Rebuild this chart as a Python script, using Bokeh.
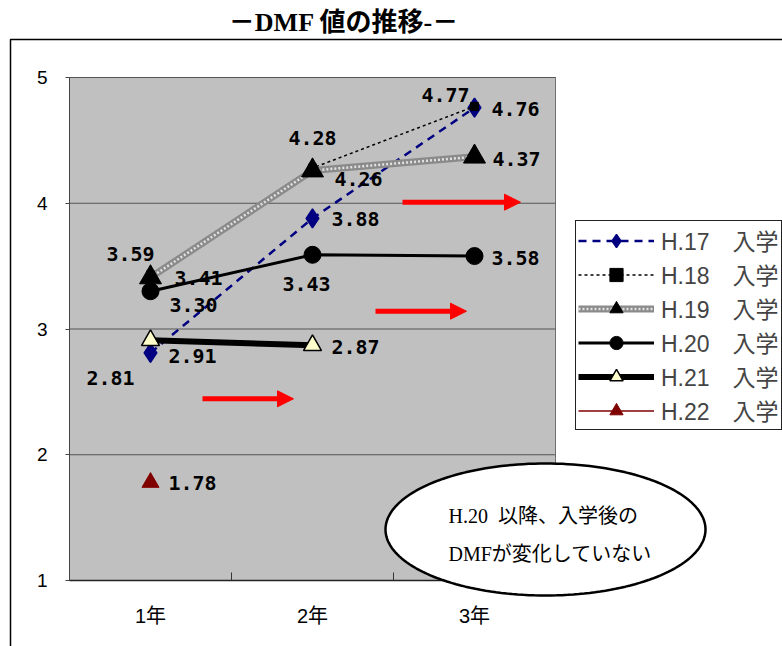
import numpy as np
from bokeh.plotting import figure
from bokeh.models import (FixedTicker, Legend, LegendItem, Label, Arrow, NormalHead,
                          BoxAnnotation, PolyAnnotation, ColumnDataSource)
from bokeh.core.properties import value
from bokeh.embed import file_html
from bokeh.resources import INLINE

# ---------------- data ----------------
years = ["1年", "2年", "3年"]
series_labels = ["H.17\u3000入学", "H.18\u3000入学", "H.19\u3000入学",
                 "H.20\u3000入学", "H.21\u3000入学", "H.22\u3000入学"]
h17 = [2.81, 3.88, 4.76]
h18 = [3.43, 4.28, 4.77]
h19 = [3.41, 4.26, 4.37]
h20 = [3.30, 3.59, 3.58]
h21 = [2.91, 2.87]
h22 = [1.78]
y_ticks = [1, 2, 3, 4, 5]
title_text = "－DMF 値の推移-－"
note_lines = ["H.20\u2002以降、入学後の", "DMFが変化していない"]

# ---------------- geometry helpers (picture pixels -> data) ----------------
FL, FR, FT, FB = 69, 555, 77, 580   # plot-area edges in picture pixels
def px2x(px):
    return (px - FL) / (FR - FL) * len(years)
def px2y(py):
    return y_ticks[0] + (FB - py) / (FB - FT) * (y_ticks[-1] - y_ticks[0])

W, H = 782, 646
p = figure(width=W, height=H, output_backend="svg", toolbar_location=None,
           x_range=(px2x(0), px2x(W)), y_range=(px2y(H), px2y(0)),
           min_border=0, background_fill_color="white", border_fill_color="white")
p.outline_line_color = None
p.xgrid.visible = False
p.ygrid.visible = False

SANS = "Liberation Sans, Noto Sans CJK JP"
SERIF = "Liberation Serif, Noto Sans CJK JP"
x0, x1 = 0, len(years)
y0, y1 = y_ticks[0], y_ticks[-1]

# outer frame of the chart object
p.add_layout(BoxAnnotation(left=px2x(10), top=px2y(39), right=px2x(2000), bottom=px2y(2000),
                           fill_alpha=0, line_color="black", line_alpha=1, line_width=1.5,
                           level="underlay"))
# plot area
p.add_layout(BoxAnnotation(left=x0, right=x1, bottom=y0, top=y1, fill_color="#C0C0C0",
                           fill_alpha=1, line_color="#707070", line_alpha=1, line_width=1,
                           level="underlay"))
# horizontal gridlines
p.segment(x0=[x0] * len(y_ticks), x1=[x1] * len(y_ticks), y0=y_ticks, y1=y_ticks,
          line_color="#555555", line_width=1)

# y axis
p.yaxis.fixed_location = x0
p.yaxis.bounds = (y0, y1)
p.yaxis.ticker = FixedTicker(ticks=y_ticks, minor_ticks=[])
p.yaxis.major_label_text_font = SANS
p.yaxis.major_label_text_font_size = "19px"
p.yaxis.major_label_text_color = "black"
p.yaxis.major_tick_out = 4
p.yaxis.major_tick_in = 0
p.yaxis.major_label_standoff = 18
p.yaxis.axis_line_color = "#444444"
p.yaxis.major_tick_line_color = "#444444"

# x axis: labels at category centres, tick marks between categories
centers = [i + 0.5 for i in range(len(years))]
p.xaxis.fixed_location = y0
p.xaxis.bounds = (x0, x1)
p.xaxis.ticker = FixedTicker(ticks=centers, minor_ticks=list(range(1, len(years))))
p.xaxis.major_label_overrides = {c: y for c, y in zip(centers, years)}
p.xaxis.major_label_text_font = SANS
p.xaxis.major_label_text_font_size = "20px"
p.xaxis.major_label_text_color = "black"
p.xaxis.major_tick_in = 0
p.xaxis.major_tick_out = 0
p.xaxis.minor_tick_in = 8
p.xaxis.minor_tick_out = 0
p.xaxis.minor_tick_line_color = "#333333"
p.xaxis.major_label_standoff = 24
p.xaxis.axis_line_color = "#222222"
p.xaxis.axis_line_width = 1.5

def xs_for(vals):
    return [centers[i] for i in range(len(vals))]

items = []
# H.17
r1 = p.line(xs_for(h17), h17, line_color="#000080", line_width=2.5, line_dash="8 6")
r2 = p.scatter(xs_for(h17), h17, marker="diamond", size=19,
               fill_color="#000080", line_color="#000080", line_width=1.5)
items.append(LegendItem(label=series_labels[0], renderers=[r1, r2]))
# H.18
r1 = p.line(xs_for(h18), h18, line_color="black", line_width=1.5, line_dash="3 3")
r2 = p.scatter(xs_for(h18), h18, marker="square", size=8, fill_color="black", line_color="black")
items.append(LegendItem(label=series_labels[1], renderers=[r1, r2]))
# H.19
r1 = p.line(xs_for(h19), h19, line_color="#8a8a8a", line_width=7)
r1b = p.line(xs_for(h19), h19, line_color="#e2e2e2", line_width=2.5, line_dash="2 2")
r2 = p.scatter(xs_for(h19), h19, marker="triangle", size=22, fill_color="black", line_color="black")
items.append(LegendItem(label=series_labels[2], renderers=[r1, r1b, r2]))
# H.20
r1 = p.line(xs_for(h20), h20, line_color="black", line_width=3)
r2 = p.scatter(xs_for(h20), h20, marker="circle", size=17, fill_color="black", line_color="black")
items.append(LegendItem(label=series_labels[3], renderers=[r1, r2]))
# H.21
r1 = p.line(xs_for(h21), h21, line_color="black", line_width=6)
r2 = p.scatter(xs_for(h21), h21, marker="triangle", size=18, fill_color="#FFFFCC",
               line_color="black", line_width=1.5)
items.append(LegendItem(label=series_labels[4], renderers=[r1, r2]))
# H.22
r1 = p.line(xs_for(h22), h22, line_color="#800000", line_width=1.5)
r2 = p.scatter(xs_for(h22), h22, marker="triangle", size=17, fill_color="#800000", line_color="#800000")
items.append(LegendItem(label=series_labels[5], renderers=[r1, r2]))

# data labels (offsets in screen pixels, as placed in the original)
label_offsets = [
    [(-40, 25), (43, 1), (41, 1)],      # H.17
    [(156, 9), (0, -30), (-29, -11)],   # H.18
    [(48, 1), (46, 8), (42, 2)],        # H.19
    [(43, 14), (-182, -1), (41, 2)],    # H.20
    [(42, 16), (43, 2)],                # H.21
    [(42, 1)],                          # H.22
]
lx, ly, lt, lox, loy = [], [], [], [], []
for vals, offs in zip([h17, h18, h19, h20, h21, h22], label_offsets):
    for x, v, (ox, oy) in zip(xs_for(vals), vals, offs):
        lx.append(x); ly.append(v); lt.append(f"{v:.2f}"); lox.append(ox); loy.append(oy)
src = ColumnDataSource(dict(x=lx, y=ly, text=lt, xo=lox, yo=loy))
p.text(x="x", y="y", text="text", x_offset="xo", y_offset="yo", source=src,
       text_font=value("DejaVu Sans Mono"), text_font_style="bold", text_font_size="20px",
       text_align="center", text_baseline="middle", text_color="black")

# red arrows (annotations)
arrows = [((402, 521), 201.7), ((375, 467), 310.7), ((202, 294), 398.3)]
for (xa, xb), yy in arrows:
    p.add_layout(Arrow(end=NormalHead(size=16, fill_color="red", line_color="red", line_width=1),
                       x_start=px2x(xa), x_end=px2x(xb - 1), y_start=px2y(yy), y_end=px2y(yy),
                       line_color="red", line_width=5))

# legend (location in screen pixels from the canvas' bottom-left)
legend = Legend(items=items, location=(575, H - 430), orientation="vertical",
                glyph_width=76, glyph_height=33, label_height=33, spacing=0,
                padding=2, margin=0, label_standoff=7,
                label_text_font=SANS, label_text_font_size="23px",
                border_line_color="#222222", border_line_width=1.2, border_line_alpha=1,
                background_fill_color="white", background_fill_alpha=1)
p.add_layout(legend)

# callout ellipse
t = np.linspace(0, 2 * np.pi, 181)
cx, cy, rx, ry = 545, 529, 160, 66
p.add_layout(PolyAnnotation(xs=list(px2x(cx + rx * np.cos(t))), ys=list(px2y(cy + ry * np.sin(t))),
                            fill_color="white", fill_alpha=1, line_color="black", line_alpha=1,
                            line_width=2.5, level="overlay"))
for txt, yy in zip(note_lines, [515, 553]):
    p.add_layout(Label(x=px2x(448), y=px2y(yy), text=txt, text_align="left",
                       text_baseline="middle", text_font=SERIF, text_font_size="20px",
                       text_color="black", level="overlay"))

# title
p.add_layout(Label(x=px2x(343.5), y=px2y(22), text=title_text, text_align="center",
                   text_baseline="middle", text_font=SERIF, text_font_size="26px",
                   text_font_style="bold", text_color="black"))

open("out.html", "w").write(file_html(p, INLINE))
